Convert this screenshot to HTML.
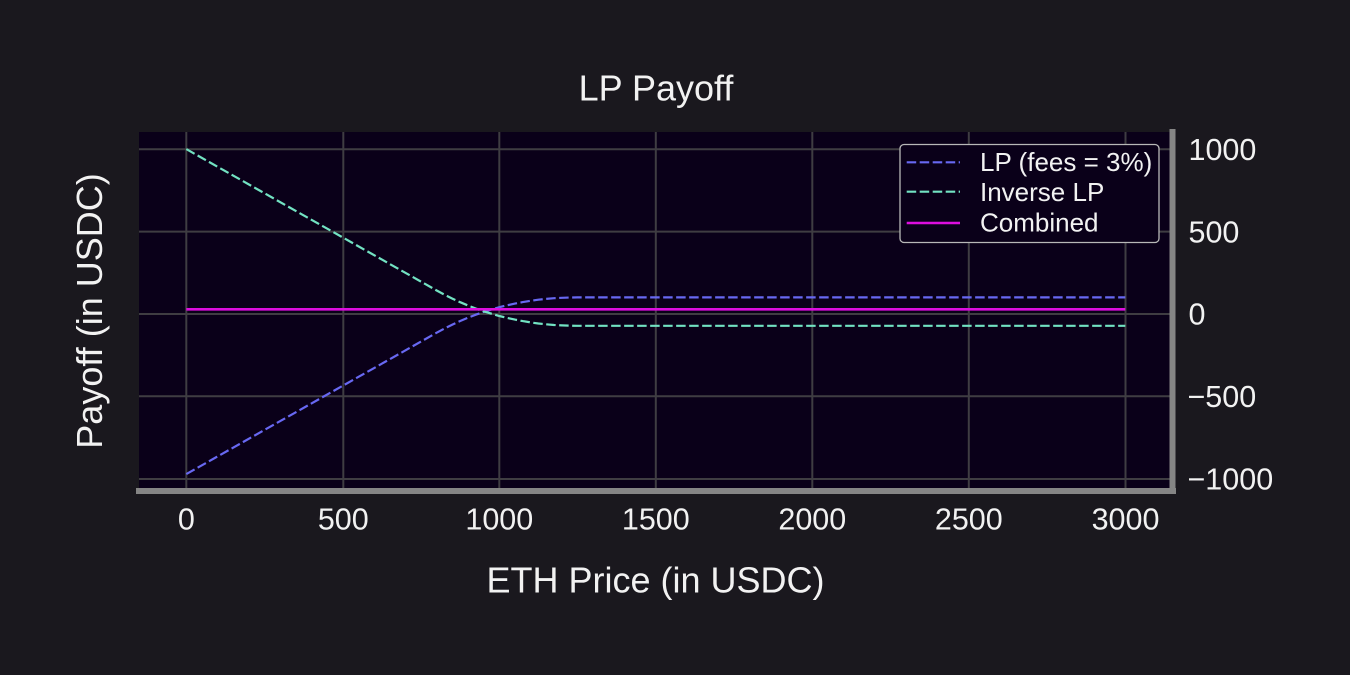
<!DOCTYPE html>
<html>
<head>
<meta charset="utf-8">
<style>
  html, body { margin: 0; padding: 0; background: #1a181e; }
  svg { display: block; }
  text { font-family: "Liberation Sans", Arial, sans-serif; fill: #f2f2f2; }
</style>
</head>
<body>
<svg width="1350" height="675" viewBox="0 0 1350 675" xmlns="http://www.w3.org/2000/svg">
  <rect x="0" y="0" width="1350" height="675" fill="#1a181e"/>
  <!-- axes background -->
  <rect x="139" y="132" width="1033.5" height="359" fill="#0a0019"/>
  <!-- grid -->
  <g stroke="#3f3d42" stroke-width="2">
    <line x1="186.3" y1="132" x2="186.3" y2="491"/>
    <line x1="343.3" y1="132" x2="343.3" y2="491"/>
    <line x1="499.3" y1="132" x2="499.3" y2="491"/>
    <line x1="655.8" y1="132" x2="655.8" y2="491"/>
    <line x1="812.3" y1="132" x2="812.3" y2="491"/>
    <line x1="968.8" y1="132" x2="968.8" y2="491"/>
    <line x1="1125.5" y1="132" x2="1125.5" y2="491"/>
    <line x1="139" y1="149.3" x2="1172.5" y2="149.3"/>
    <line x1="139" y1="231.6" x2="1172.5" y2="231.6"/>
    <line x1="139" y1="314" x2="1172.5" y2="314"/>
    <line x1="139" y1="396.3" x2="1172.5" y2="396.3"/>
    <line x1="139" y1="479" x2="1172.5" y2="479"/>
  </g>
  <!-- LP (fees = 3%) -->
  <polyline fill="none" stroke="#6868f2" stroke-width="2.2" stroke-dasharray="9.5,3.5"
    points="186.3,474.1 436.7,332.7 444.5,328.5 452.35,324.6 460.2,321.0 468.0,317.7 475.8,314.7 483.65,311.9 491.5,309.5 499.3,307.2 507.1,305.3 514.95,303.6 522.8,302.1 530.6,300.8 538.4,299.7 546.25,298.9 554.1,298.2 561.9,297.8 569.7,297.5 577.55,297.4 1125.3,297.4"/>
  <!-- Inverse LP -->
  <polyline fill="none" stroke="#72e2c2" stroke-width="2.2" stroke-dasharray="9.5,3.5"
    points="186.3,149.1 436.7,290.5 444.5,294.7 452.35,298.6 460.2,302.2 468.0,305.5 475.8,308.5 483.65,311.3 491.5,313.7 499.3,316.0 507.1,317.9 514.95,319.6 522.8,321.1 530.6,322.4 538.4,323.5 546.25,324.3 554.1,325.0 561.9,325.4 569.7,325.7 577.55,325.8 1125.3,325.8"/>
  <!-- Combined -->
  <line x1="186.3" y1="309.3" x2="1125.3" y2="309.3" stroke="#dd0ede" stroke-width="2.6"/>
  <!-- spines -->
  <rect x="136" y="488" width="1040" height="6" fill="#858585"/>
  <rect x="1169.5" y="129" width="6" height="365" fill="#858585"/>
  <!-- legend -->
  <rect x="900" y="144.5" width="259" height="98" rx="4" ry="4" fill="#0a0019" stroke="#b8b8b8" stroke-width="1.3"/>
  <line x1="906.7" y1="162.3" x2="960" y2="162.3" stroke="#6868f2" stroke-width="2.2" stroke-dasharray="9.5,3.5"/>
  <line x1="906.7" y1="191.7" x2="960" y2="191.7" stroke="#72e2c2" stroke-width="2.2" stroke-dasharray="9.5,3.5"/>
  <line x1="906.7" y1="223" x2="960" y2="223" stroke="#dd0ede" stroke-width="2.6"/>
  <text x="980" y="171" font-size="26">LP (fees = 3%)</text>
  <text x="980" y="201" font-size="26">Inverse LP</text>
  <text x="980" y="231.5" font-size="26">Combined</text>
  <!-- x tick labels -->
  <g font-size="30.5" text-anchor="middle">
    <text x="186.3" y="529.5">0</text>
    <text x="343.3" y="529.5">500</text>
    <text x="499.3" y="529.5">1000</text>
    <text x="655.8" y="529.5">1500</text>
    <text x="812.3" y="529.5">2000</text>
    <text x="968.8" y="529.5">2500</text>
    <text x="1125.5" y="529.5">3000</text>
  </g>
  <!-- y tick labels (right) -->
  <g font-size="30.5" text-anchor="start">
    <text x="1188.5" y="160">1000</text>
    <text x="1188.5" y="242.3">500</text>
    <text x="1188.5" y="324.7">0</text>
    <text x="1187.5" y="407">−500</text>
    <text x="1187.5" y="489.5">−1000</text>
  </g>
  <!-- title & labels -->
  <text x="656" y="100.7" font-size="36" text-anchor="middle">LP Payoff</text>
  <text x="655.5" y="592.7" font-size="36" text-anchor="middle">ETH Price (in USDC)</text>
  <text x="0" y="0" font-size="36" text-anchor="middle" transform="translate(102,311) rotate(-90)">Payoff (in USDC)</text>
</svg>
</body>
</html>
